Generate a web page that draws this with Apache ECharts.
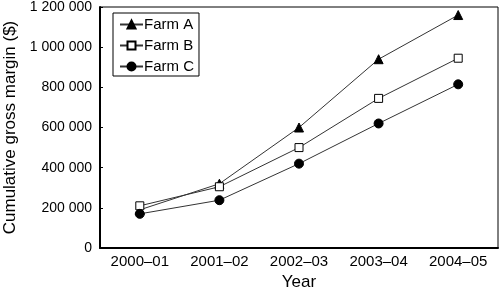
<!DOCTYPE html>
<html>
<head>
<meta charset="utf-8">
<script src="https://cdn.jsdelivr.net/npm/echarts@6/dist/echarts.min.js"></script>
<style>
html,body{margin:0;padding:0;background:#fff;}
#chart{width:500px;height:290px;}
</style>
</head>
<body>
<div id="chart"></div>
<script>
var years = ['2000\u201301', '2001\u201302', '2002\u201303', '2003\u201304', '2004\u201305'];
var farmA = [190000, 320000, 600000, 940000, 1160000];
var farmB = [210000, 305000, 500000, 745000, 945000];
var farmC = [170000, 238000, 420000, 620000, 815000];
var seriesNames = ['Farm A', 'Farm B', 'Farm C'];

var font = 'Liberation Sans, Arial, sans-serif';

// 千位用空格分隔
function spaceNum(v) {
	return String(v).replace(/\B(?=(\d{3})+(?!\d))/g, ' ');
}

function mkSeries(name, data, symbol, fill) {
	return {
		name: name,
		type: 'line',
		data: data,
		symbol: symbol,
		symbolSize: symbol == 'rect' ? 8 : 9,
		showAllSymbol: true,
		lineStyle: { color: '#333', width: 1 },
		itemStyle: { color: fill, borderColor: '#000', borderWidth: 1 },
		emphasis: { disabled: true }
	};
}

var chart = echarts.init(document.getElementById('chart'));
var option = {
	animation: false,
	grid: { left: 100, right: 2, top: 7, bottom: 42, outerBoundsMode: 'none', containLabel: false,
		show: true, borderColor: '#000', borderWidth: 1 },
	legend: {
		orient: 'vertical',
		left: 113, top: 13,
		data: seriesNames,
		borderColor: '#000', borderWidth: 1,
		padding: [4, 5, 2, 6],
		itemGap: 6,
		itemWidth: 23, itemHeight: 10,
		textStyle: { fontFamily: font, fontSize: 15, color: '#000', padding: [0, 0, 0, -4] }
	},
	xAxis: {
		type: 'category',
		data: years,
		name: 'Year',
		nameLocation: 'middle',
		nameGap: 25,
		nameTextStyle: { fontFamily: font, fontSize: 17, color: '#000' },
		axisLine: { lineStyle: { color: '#000', width: 2 } },
		axisTick: { inside: true, length: 3, lineStyle: { color: '#000' } },
		axisLabel: { fontFamily: font, fontSize: 15, color: '#000', margin: 6 }
	},
	yAxis: {
		type: 'value',
		min: 0, max: 1200000, interval: 200000,
		name: 'Cumulative gross margin ($)',
		nameLocation: 'middle',
		nameGap: 79,
		nameTextStyle: { fontFamily: font, fontSize: 17, color: '#000' },
		axisLine: { show: true, lineStyle: { color: '#000', width: 2 } },
		axisTick: { show: true, inside: true, length: 3, lineStyle: { color: '#000' } },
		splitLine: { show: false },
		axisLabel: { fontFamily: font, fontSize: 14, color: '#000', margin: 8, formatter: spaceNum }
	},
	series: [
		mkSeries('Farm A', farmA, 'triangle', '#000'),
		mkSeries('Farm B', farmB, 'rect', '#fff'),
		mkSeries('Farm C', farmC, 'circle', '#000')
	]
};
chart.setOption(option);
</script>
</body>
</html>
